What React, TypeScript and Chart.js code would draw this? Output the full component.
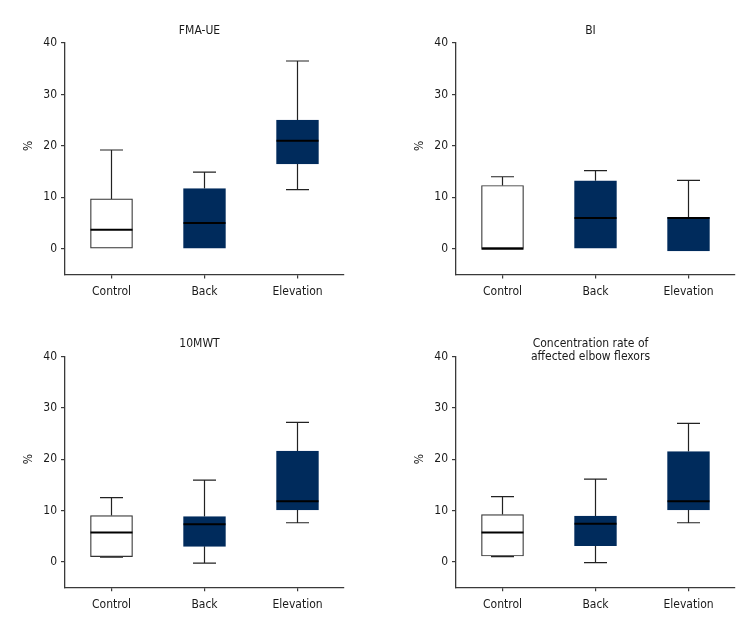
import { useEffect, useRef } from "react";
import { Chart, registerables } from "chart.js";

Chart.register(...registerables);

const categories = ["Control", "Back", "Elevation"];
const yTicks = [0, 10, 20, 30, 40];

// FMA-UE
const fmaMin = [0, 0, 11.5];
const fmaQ1 = [0, 0, 16.5];
const fmaMedian = [3.7, 5.0, 21.0];
const fmaQ3 = [9.7, 11.7, 25.0];
const fmaMax = [19.2, 14.9, 36.5];

// BI
const biMin = [0, 0, -0.4];
const biQ1 = [0, 0, -0.4];
const biMedian = [0, 6.0, 6.0];
const biQ3 = [12.3, 13.2, 6.1];
const biMax = [14.0, 15.2, 13.3];

// 10MWT
const mwtMin = [0.9, -0.3, 7.6];
const mwtQ1 = [1.0, 3.0, 10.1];
const mwtMedian = [5.7, 7.3, 11.8];
const mwtQ3 = [9.0, 8.8, 21.6];
const mwtMax = [12.5, 15.9, 27.2];

// Concentration rate of affected elbow flexors
const elbMin = [1.0, -0.2, 7.6];
const elbQ1 = [1.1, 3.1, 10.1];
const elbMedian = [5.7, 7.4, 11.8];
const elbQ3 = [9.2, 8.9, 21.5];
const elbMax = [12.7, 16.1, 27.0];

const NAVY = "#002b5c";
const AXIS = "#3a3a3a";
const FONT = "'DejaVu Sans Condensed', 'DejaVu Sans', sans-serif";

interface BoxStats {
  min: number[];
  q1: number[];
  median: number[];
  q3: number[];
  max: number[];
}

interface Panel {
  title: string[];
  stats: BoxStats;
  left: number;
  right: number;
  top: number;
  bottom: number;
  titleY: number;
  col: number;
  row: number;
}

const W = 378;
const H = 318;
const X_AXIS_H = 30;

const panels: Panel[] = [
  {
    title: ["FMA-UE"],
    stats: { min: fmaMin, q1: fmaQ1, median: fmaMedian, q3: fmaQ3, max: fmaMax },
    left: 65, right: 344, top: 43, bottom: 274.5, titleY: 31, col: 0, row: 0,
  },
  {
    title: ["BI"],
    stats: { min: biMin, q1: biQ1, median: biMedian, q3: biQ3, max: biMax },
    left: 78, right: 357, top: 43, bottom: 274.5, titleY: 31, col: 1, row: 0,
  },
  {
    title: ["10MWT"],
    stats: { min: mwtMin, q1: mwtQ1, median: mwtMedian, q3: mwtQ3, max: mwtMax },
    left: 65, right: 344, top: 38.7, bottom: 269.3, titleY: 26, col: 0, row: 1,
  },
  {
    title: ["Concentration rate of", "affected elbow flexors"],
    stats: { min: elbMin, q1: elbQ1, median: elbMedian, q3: elbQ3, max: elbMax },
    left: 78, right: 357, top: 38.7, bottom: 269.3, titleY: 25.7, col: 1, row: 1,
  },
];

// whiskers, medians, panel title and the "%" label
const boxPlotPlugin = {
  id: "boxPlot",
  beforeDatasetsDraw(chart: any, _args: any, opts: any) {
    const s: BoxStats = opts.stats;
    const x = chart.scales.x;
    const y = chart.scales.y;
    const ctx = chart.ctx;
    ctx.save();
    ctx.strokeStyle = "#222";
    ctx.lineWidth = 1.2;
    s.q1.forEach((_v, i) => {
      const cx = x.getPixelForValue(i);
      const segs: [number, number][] = [[s.q3[i], s.max[i]]];
      if (s.min[i] < s.q1[i]) segs.push([s.min[i], s.q1[i]]);
      segs.forEach(([a, b], k) => {
        const end = k === 0 ? b : a;
        ctx.beginPath();
        ctx.moveTo(cx, y.getPixelForValue(a));
        ctx.lineTo(cx, y.getPixelForValue(b));
        ctx.moveTo(cx - 11.5, y.getPixelForValue(end));
        ctx.lineTo(cx + 11.5, y.getPixelForValue(end));
        ctx.stroke();
      });
    });
    ctx.restore();
  },
  afterDatasetsDraw(chart: any, _args: any, opts: any) {
    const s: BoxStats = opts.stats;
    const y = chart.scales.y;
    const ctx = chart.ctx;
    const meta = chart.getDatasetMeta(0);
    ctx.save();
    ctx.strokeStyle = "#000";
    ctx.lineWidth = 2;
    meta.data.forEach((bar: any, i: number) => {
      const py = y.getPixelForValue(s.median[i]);
      ctx.beginPath();
      ctx.moveTo(bar.x - bar.width / 2, py);
      ctx.lineTo(bar.x + bar.width / 2, py);
      ctx.stroke();
    });

    const area = chart.chartArea;
    ctx.fillStyle = "#1a1a1a";
    ctx.textAlign = "center";
    ctx.textBaseline = "middle";
    ctx.font = `12px ${FONT}`;
    const tx = (area.left + area.right) / 2 - 5;
    opts.title.forEach((line: string, k: number) => {
      ctx.fillText(line, tx, opts.titleY + k * 13);
    });

    ctx.translate(area.left - 36, y.getPixelForValue(20));
    ctx.rotate(-Math.PI / 2);
    ctx.fillText("%", 0, 0);
    ctx.restore();
  },
};

function BoxPanel({ panel }: { panel: Panel }) {
  const chartRef = useRef<HTMLCanvasElement>(null);
  const chartInstance = useRef<Chart | null>(null);

  useEffect(() => {
    if (!chartRef.current) return;
    if (chartInstance.current) chartInstance.current.destroy();
    const ctx = chartRef.current.getContext("2d");
    if (!ctx) return;

    const s = panel.stats;
    chartInstance.current = new Chart(ctx, {
      type: "bar",
      data: {
        labels: categories,
        datasets: [
          {
            data: s.q1.map((v, i) => [v, s.q3[i]]),
            backgroundColor: ["#ffffff", NAVY, NAVY],
            borderColor: ["#333333", NAVY, NAVY],
            borderWidth: 1.2,
            borderSkipped: false,
            barThickness: 42,
          },
        ],
      },
      plugins: [boxPlotPlugin],
      options: {
        responsive: false,
        animation: false,
        layout: {
          padding: {
            left: 0,
            top: panel.top,
            right: W - panel.right,
            bottom: H - panel.bottom - X_AXIS_H,
          },
        },
        plugins: {
          legend: { display: false },
          tooltip: { enabled: false },
          title: { display: false },
          boxPlot: { stats: s, title: panel.title, titleY: panel.titleY },
        } as any,
        scales: {
          x: {
            offset: true,
            afterFit: (scale: any) => {
              scale.height = X_AXIS_H;
            },
            border: { display: true, color: AXIS, width: 1.3 },
            grid: {
              offset: false,
              drawOnChartArea: false,
              drawTicks: true,
              tickLength: 4,
              color: AXIS,
              lineWidth: 1.2,
            },
            ticks: {
              color: "#1a1a1a",
              padding: 6,
              font: { family: FONT, size: 12 },
            },
          },
          y: {
            min: -5,
            max: 40,
            afterFit: (scale: any) => {
              scale.width = panel.left;
            },
            afterBuildTicks: (scale: any) => {
              scale.ticks = yTicks.map((v) => ({ value: v }));
            },
            border: { display: true, color: AXIS, width: 1.3 },
            grid: {
              drawOnChartArea: false,
              drawTicks: true,
              tickLength: 4,
              color: AXIS,
              lineWidth: 1.2,
            },
            ticks: {
              color: "#1a1a1a",
              padding: 4,
              font: { family: FONT, size: 12 },
            },
          },
        },
      },
    });

    return () => {
      if (chartInstance.current) {
        chartInstance.current.destroy();
        chartInstance.current = null;
      }
    };
  }, [panel]);

  return (
    <div
      style={{
        position: "absolute",
        left: panel.col * W,
        top: panel.row * H,
        width: W,
        height: H,
      }}
    >
      <canvas ref={chartRef} width={W} height={H} />
    </div>
  );
}

export default function App() {
  return (
    <div
      style={{
        position: "absolute",
        left: 0,
        top: 0,
        width: 756,
        height: 636,
        background: "#fff",
      }}
    >
      {panels.map((p) => (
        <BoxPanel key={p.title.join(" ")} panel={p} />
      ))}
    </div>
  );
}
